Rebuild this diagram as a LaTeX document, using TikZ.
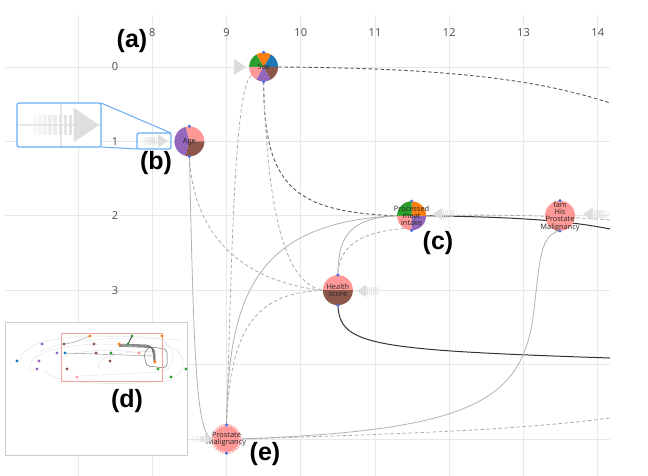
\documentclass[tikz,border=0pt]{standalone}
\usepackage{fontspec}
\setmainfont{Open Sans}
\newfontfamily\labfont{Liberation Sans}
\pgfdeclarelayer{gridlayer}\pgfdeclarelayer{edgelayer}\pgfdeclarelayer{pielayer}
\pgfsetlayers{gridlayer,edgelayer,pielayer,main}
\definecolor{cblue}{HTML}{1F77B4}
\definecolor{corange}{HTML}{FF7F0E}
\definecolor{cgreen}{HTML}{2CA02C}
\definecolor{cpurple}{HTML}{9467BD}
\definecolor{cbrown}{HTML}{8C564B}
\definecolor{cpink}{HTML}{FF9896}
\definecolor{gridc}{HTML}{E8E8E8}
\definecolor{portc}{HTML}{4A6FE3}
\definecolor{magc}{HTML}{6AAEF5}
\definecolor{minired}{HTML}{F4A3A3}
\newcommand\pslice[5]{\fill[#5] (#1) -- ++({-(#2)}:#4) arc[start angle={-(#2)}, end angle={-(#3)}, radius=#4] -- cycle;}
\tikzset{
  pnode/.style={circle,inner sep=0pt,minimum size=29pt},
  ptext/.style={inner sep=0pt,align=center,text=black!85,font=\fontsize{7.4}{7.4}\selectfont},
  axlab/.style={text=black!70,font=\fontsize{11}{11}\selectfont,inner sep=0pt},
  lab/.style={font=\labfont\bfseries\fontsize{25}{25}\selectfont,inner sep=0pt},
  darkdash/.style={draw=black!65,line width=0.9pt,dash pattern=on 3.5pt off 2.5pt},
  lightdash/.style={draw=black!33,line width=0.8pt,dash pattern=on 3.5pt off 2.5pt},
  lightline/.style={draw=black!30,line width=0.8pt},
  darkline/.style={draw=black!80,line width=1pt},
  fadearr/.pic={
    \fill[black!13] (-11,-7.5) -- (0,0) -- (-11,7.5) -- cycle;
    \foreach \i in {1,...,8}{\fill[black!13,opacity={1-0.1*\i}] ({-11-2.2*\i},-4.5) rectangle ++(1.5,9);}
  },
  plainarr/.pic={\fill[black!14] (-12,-8) -- (0,0) -- (-12,8) -- cycle;}
}
\begin{document}
\begin{tikzpicture}[x=1pt,y=-1pt]
\useasboundingbox (0,0) rectangle (648,476);
\begin{pgfonlayer}{gridlayer}
\fill[white] (0,0) rectangle (648,476);
\foreach \i in {0,...,7}{\draw[gridc,line width=0.9pt] ({78+74.25*\i},15) -- ({78+74.25*\i},476);}
\foreach \j in {0,...,5}{\draw[gridc,line width=0.9pt] (5,{67+74.4*\j}) -- (610,{67+74.4*\j});}
\end{pgfonlayer}
% axis labels
\foreach \n in {8,...,14}{\node[axlab] (xl\n) at ({152.25+74.25*(\n-8)},33) {\n};}
\foreach \n in {0,...,3}{\node[axlab] (yl\n) at (115,{67+74.4*\n}) {\n};}
% nodes
\node[pnode,minimum size=29pt] (sex) at (263.6,67) {};
\node[pnode,minimum size=30pt] (age) at (189.4,141.4) {};
\node[pnode,minimum size=29pt] (pmi) at (411.6,215.8) {};
\node[pnode,minimum size=30pt] (fam) at (560,215.8) {};
\node[pnode,minimum size=30pt] (hs) at (337.9,290.2) {};
\node[pnode,minimum size=28pt] (pm) at (226.5,439) {};
\node[ptext] (sext) at (sex.center) {Sex};
\node[ptext] (aget) at (age.center) {Age};
\node[ptext] (pmit) at (pmi.center) {Processed\\meat\\intake};
\node[ptext] (famt) at ([yshift=-0.5pt]fam.center) {fam\\His\\Prostate\\Malignancy};
\node[ptext] (hst) at (hs.center) {Health\\score};
\node[ptext] (pmt) at (pm.center) {Prostate\\Malignancy};
\coordinate (e1) at (610,103);
\coordinate (e11) at (610,358);
\coordinate (e12) at (610,229);
\coordinate (e13) at (610,220);
\coordinate (e15) at (610,418);
\coordinate (k14) at (535,300);
% pies
\begin{pgfonlayer}{pielayer}
\pslice{sex.center}{0}{60}{14.5}{cblue}
\pslice{sex.center}{60}{120}{14.5}{corange}
\pslice{sex.center}{120}{180}{14.5}{cgreen}
\pslice{sex.center}{180}{240}{14.5}{cpink}
\pslice{sex.center}{240}{300}{14.5}{cpurple}
\pslice{sex.center}{300}{360}{14.5}{cbrown}
\pslice{age.center}{0}{105}{15}{cpink}
\pslice{age.center}{105}{255}{15}{cpurple}
\pslice{age.center}{255}{360}{15}{cbrown}
\pslice{pmi.center}{0}{90}{14.5}{corange}
\pslice{pmi.center}{90}{180}{14.5}{cgreen}
\pslice{pmi.center}{180}{270}{14.5}{cpink}
\pslice{pmi.center}{270}{360}{14.5}{cpurple}
\pslice{hs.center}{0}{180}{15}{cpink}
\pslice{hs.center}{180}{360}{15}{cbrown}
\fill[cpink] (fam.center) circle (15);
\fill[cpink] (pm.center) circle (13);
\draw[cpink,line width=2pt,dash pattern=on 1.3pt off 1.2pt] (pm.center) circle (14);
\foreach \n in {sex,age,pmi,fam,hs,pm}{\fill[portc] (\n.north) circle (1.7); \fill[portc] (\n.south) circle (1.7);}
\end{pgfonlayer}
% edges
\begin{pgfonlayer}{edgelayer}
\draw[darkdash] (sex.east) .. controls (450,68) and (540,80) .. (e1);
\draw[darkdash] (sex.south) .. controls (264,185) and (292,212) .. (pmi.west);
\draw[lightdash] (sex.south) .. controls (268,232) and (290,284) .. (hs.west);
\draw[lightdash] (sex.215) .. controls (233,85) and (231,300) .. (pm.north);
\draw[lightline] (age.south) .. controls (194,360) and (196,434) .. (pm.west);
\draw[lightdash] (age.south) .. controls (194,250) and (260,284) .. (hs.west);
\draw[lightline] (pmi.west) .. controls (350,218) and (338,236) .. (hs.north);
\draw[lightdash] (pmi.240) .. controls (360,232) and (339,246) .. (hs.north);
\draw[lightline] (pmi.west) .. controls (260,222) and (228,290) .. (pm.north);
\draw[lightdash] (pm.north) .. controls (230,320) and (262,293) .. (hs.west);
\draw[darkline] (hs.south) .. controls (340,345) and (370,350) .. (e11);
\draw[darkline] (pmi.east) .. controls (520,217) and (570,221) .. (e12);
\draw[lightdash] (pmi.east) .. controls (500,214) and (560,216) .. (e13);
\draw[lightline] (fam.south) .. controls (540,234) and (540,262) .. (k14) .. controls (527,400) and (480,430) .. (pm.east);
\draw[lightdash] (pm.east) .. controls (400,434) and (520,430) .. (e15);
\end{pgfonlayer}
% fade arrows
\pic at (246,67) {plainarr};
\pic[scale=0.9] at (168,141) {fadearr};
\pic[rotate=180,scale=0.85] at (433,214) {fadearr};
\pic[rotate=180,scale=0.85] at (357,291) {fadearr};
\pic[rotate=180,scale=0.9] at (583,214) {fadearr};
\pic[scale=0.75] at (213,439) {fadearr};
% magnifier
\draw[magc,line width=1.3pt,rounded corners=2pt] (137,133) rectangle (171,149);
\begin{scope}
\clip (17,103) rectangle (101,147);
\fill[white] (17,103) rectangle (101,147);
\draw[gridc,line width=1.5pt] (17,125) -- (101,125);
\draw[gridc,line width=1.5pt] (61,103) -- (61,147);
\pic[scale=2.3] at (99,125) {fadearr};
\end{scope}
\draw[magc,line width=1.3pt,rounded corners=2pt] (17,103) rectangle (101,147);
\draw[magc,line width=1pt] (101,103) -- (171,133);
\draw[magc,line width=1pt] (101,147) -- (137,149);
% minimap
\draw[black!20,fill=white] (5,322) rectangle (187,455);
\begin{scope}
\clip (5,322) rectangle (187,455);
\draw[black!12] (20,361) .. controls (22,342) and (60,337) .. (90,336) -- (150,337) .. controls (178,338) and (180,372) .. (158,372) -- (80,376);
\draw[black!12] (30,372) .. controls (25,350) and (70,345) .. (100,344) -- (160,345) .. controls (190,346) and (190,380) .. (165,378);
\draw[black!12] (40,352) .. controls (60,340) and (120,335) .. (180,340);
\draw[black!12] (45,370) .. controls (50,385) and (120,386) .. (175,380);
\draw[black!12] (100,370) .. controls (90,355) and (130,350) .. (160,352);
\draw[black!12] (60,360) .. controls (70,350) and (110,348) .. (140,353);
\draw[black!45] (65,353) -- (153,356);
\draw[black!40] (90,336) .. controls (80,340) and (70,344) .. (64,344);
\foreach \d in {0,0.8,1.6,2.4}{\draw[black!65,line width=0.5pt] (119,{344+\d}) -- ({146+\d},{345+\d}) .. controls ({152+\d},{345+\d}) and ({153+\d},{350}) .. ({154+\d*0.5},362);}
\draw[black!60,line width=0.5pt,rounded corners=4pt] (150,347) -- (167,349) -- (167,368) -- (146,366) -- (144,352) -- (150,347);
\draw[black!80,line width=0.7pt] (128,344) -- (132,336);
\draw[minired,line width=0.8pt] (61,333) rectangle (162,381);
\foreach \x/\y/\c in {17/361/cblue,42/344/cpurple,39/361/cpurple,37/369/cpurple,57/353/cpurple,65/353/cblue,67/369/cbrown,77/377/cpink,64/344/cbrown,90/336/corange,94/344/cbrown,96/353/cbrown,110/361/cbrown,111/353/cgreen,119/344/corange,128/344/cgreen,132/336/cgreen,139/353/cpink,162/336/corange,155/362/corange,158/369/cgreen,171/377/cgreen,186/369/cgreen}{\fill[\c] (\x,\y) circle (1.7);}
\end{scope}
% panel labels
\node[lab] (la) at (132,41) {(a)};
\node[lab] (lb) at (156,163) {(b)};
\node[lab] (lc) at (438,243) {(c)};
\node[lab] (ld) at (127,401) {(d)};
\node[lab] (le) at (265,454) {(e)};
\end{tikzpicture}
\end{document}
